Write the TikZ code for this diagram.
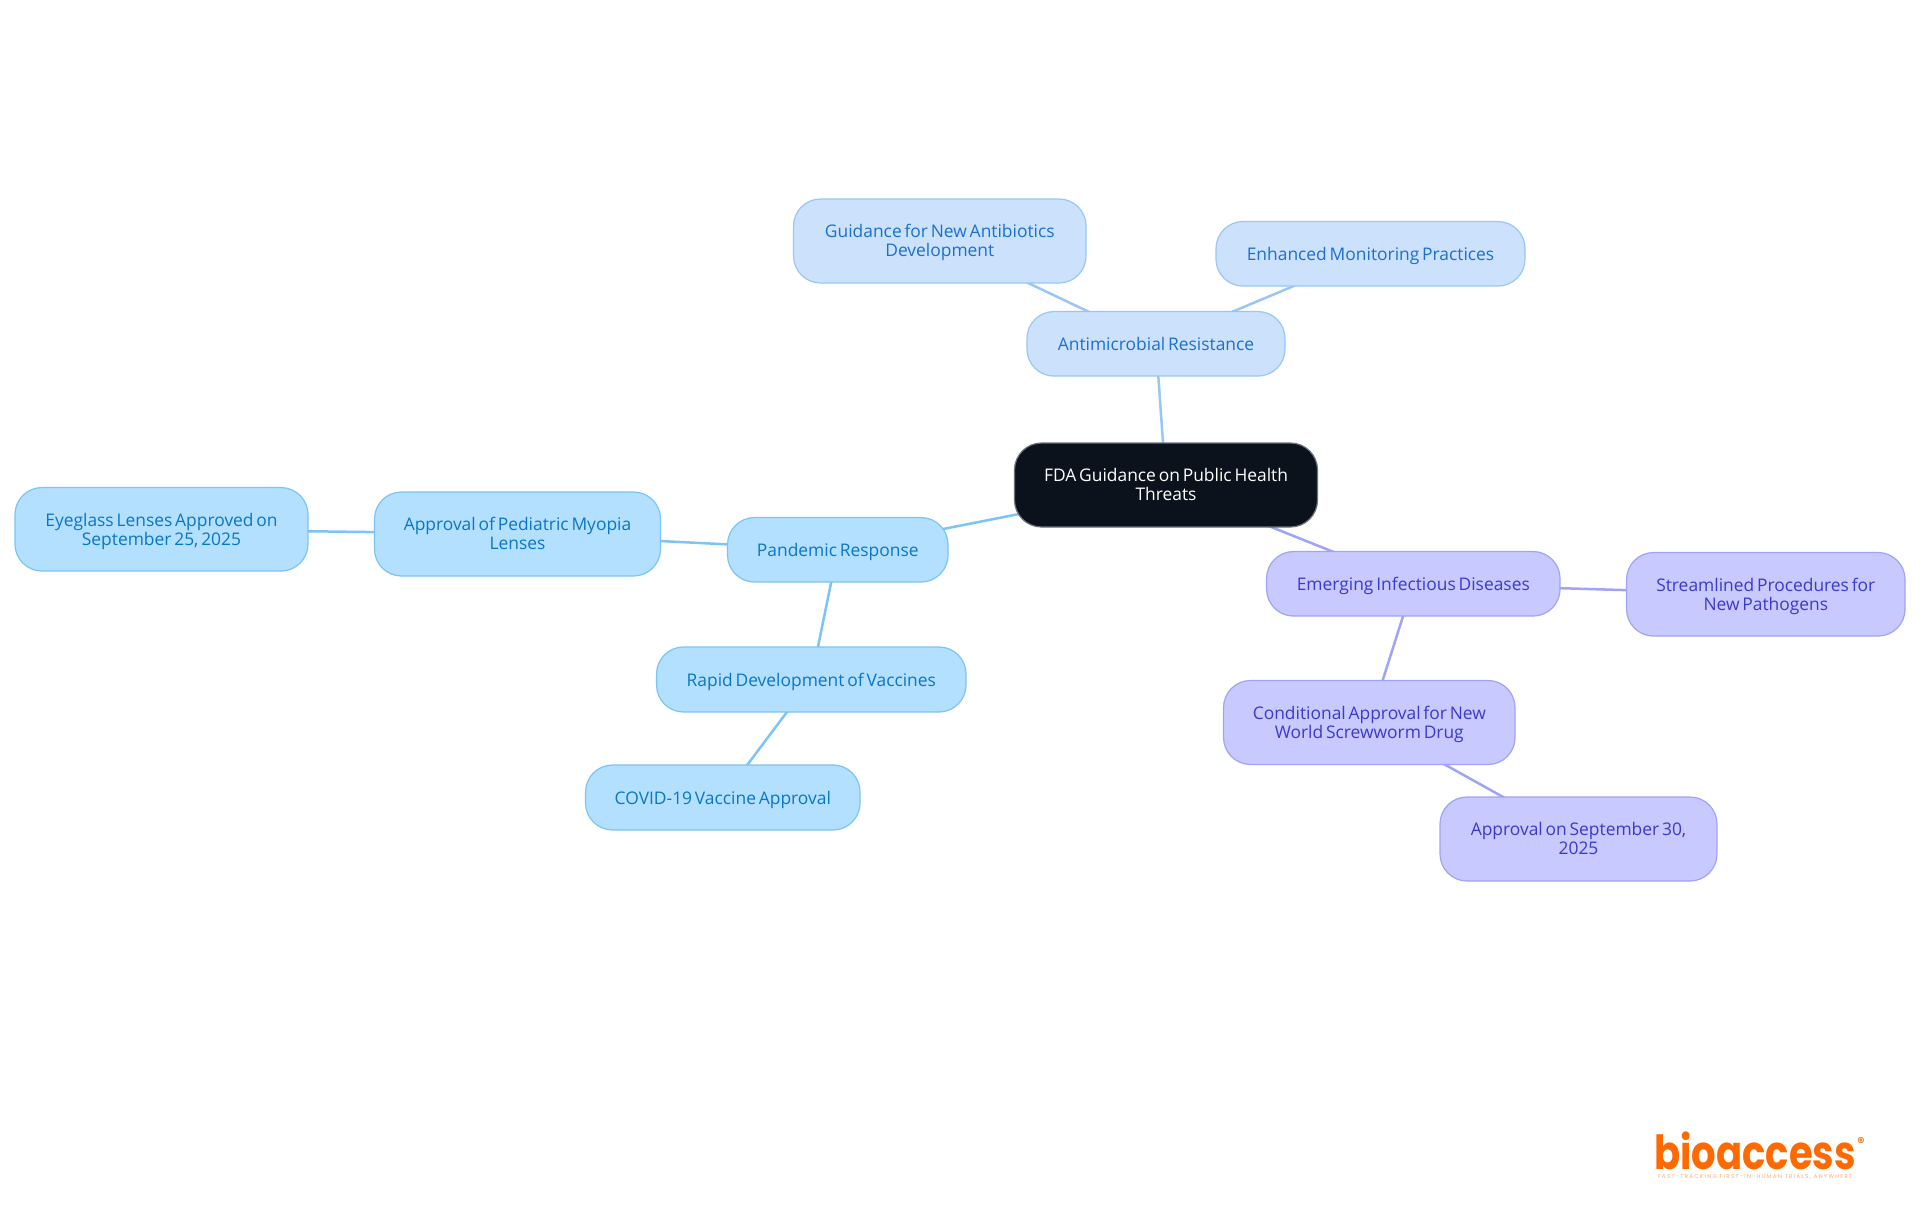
\documentclass[tikz,border=0pt]{standalone}
\usepackage{fontspec}
\setmainfont[WordSpace=0.62]{Open Sans}
\newfontfamily\logofont[FakeStretch=0.82]{Poppins}
\newfontfamily\tagfont[LetterSpace=23]{Poppins}
\usetikzlibrary{backgrounds}
\newcommand{\firstline}{\rule{0pt}{17.3pt}}
\definecolor{rootfill}{HTML}{0C121B}
\definecolor{rootline}{HTML}{6E7278}
\definecolor{bluefill}{HTML}{CCE2FC}
\definecolor{blueline}{HTML}{9AC6F5}
\definecolor{bluetext}{HTML}{1C6FD0}
\definecolor{skyfill}{HTML}{B3E0FF}
\definecolor{skyline}{HTML}{7CC4F6}
\definecolor{skytext}{HTML}{0A76C8}
\definecolor{indfill}{HTML}{C7C9FF}
\definecolor{indline}{HTML}{A0A4F6}
\definecolor{indtext}{HTML}{3A3ACF}
\definecolor{logoorange}{HTML}{FF6A00}
\tikzset{
  x=1pt,y=-1pt,
  box/.style={rectangle,rounded corners=27pt,line width=1.2pt,inner sep=0pt,align=center,
    font=\fontsize{17.4}{19.1}\selectfont,
    execute at begin node={\rule{0pt}{17.5pt}},
    execute at end node={\rule[-4.5pt]{0pt}{4.5pt}}},
  rootbox/.style={box,draw=rootline,fill=rootfill,text=white},
  bluebox/.style={box,draw=blueline,fill=bluefill,text=bluetext},
  skybox/.style={box,draw=skyline,fill=skyfill,text=skytext},
  indbox/.style={box,draw=indline,fill=indfill,text=indtext},
  link/.style={line width=2.5pt},
  bluelink/.style={link,draw=blueline},
  skylink/.style={link,draw=skyline},
  indlink/.style={link,draw=indline},
}
\begin{document}
\begin{tikzpicture}
\useasboundingbox (0,0) rectangle (1920,1215);
\node[rootbox,minimum width=303pt,minimum height=84pt] (root) at (1166,485) {\firstline FDA Guidance on Public Health\\Threats};
\node[bluebox,minimum width=258pt,minimum height=64.5pt] (amr) at (1156,343.8) {Antimicrobial Resistance};
\node[bluebox,minimum width=292.5pt,minimum height=84pt] (abx) at (939.8,241) {\firstline Guidance for New Antibiotics\\Development};
\node[bluebox,minimum width=309pt,minimum height=64.5pt] (mon) at (1370.5,253.8) {Enhanced Monitoring Practices};
\node[skybox,minimum width=220.5pt,minimum height=64.5pt] (pan) at (837.8,549.8) {Pandemic Response};
\node[skybox,minimum width=286pt,minimum height=84pt] (ped) at (517.5,534) {\firstline Approval of Pediatric Myopia\\Lenses};
\node[skybox,minimum width=293pt,minimum height=83.5pt] (eye) at (161.5,529.3) {\firstline Eyeglass Lenses Approved on\\September 25, 2025};
\node[skybox,minimum width=309.5pt,minimum height=65pt] (vac) at (811.3,679.5) {Rapid Development of Vaccines};
\node[skybox,minimum width=274.5pt,minimum height=65pt] (cov) at (722.8,797.5) {COVID-19 Vaccine Approval};
\node[indbox,minimum width=293.5pt,minimum height=64.5pt] (emg) at (1413.3,583.8) {Emerging Infectious Diseases};
\node[indbox,minimum width=278.5pt,minimum height=83.5pt] (str) at (1765.8,594.3) {\firstline Streamlined Procedures for\\New Pathogens};
\node[indbox,minimum width=291.5pt,minimum height=84pt] (con) at (1369.3,722.5) {\firstline Conditional Approval for New\\World Screwworm Drug};
\node[indbox,minimum width=277pt,minimum height=84pt] (sep) at (1578.5,839) {\firstline Approval on September 30,\\2025};
\begin{scope}[on background layer]
\fill[white] (0,0) rectangle (1920,1215);
\draw[bluelink] (root.center) -- (amr.center);
\draw[bluelink] (amr.center) -- (abx.center);
\draw[bluelink] (amr.center) -- (mon.center);
\draw[skylink] (root.center) -- (pan.center);
\draw[skylink] (pan.center) -- (ped.center);
\draw[skylink] (ped.center) -- (eye.center);
\draw[skylink] (pan.center) -- (vac.center);
\draw[skylink] (vac.center) -- (cov.center);
\draw[indlink] (root.center) -- (emg.center);
\draw[indlink] (emg.center) -- (str.center);
\draw[indlink] (emg.center) -- (con.center);
\draw[indlink] (con.center) -- (sep.center);
\end{scope}
\node[anchor=base west,inner sep=0pt,text=logoorange,font=\logofont\bfseries\fontsize{47}{47}\selectfont] (logo) at (1654,1169) {bioaccess};
\node[anchor=center,inner sep=0pt,text=logoorange,font=\tagfont\bfseries\fontsize{14}{14}\selectfont] (reg) at (1861,1142) {®};
\node[anchor=center,inner sep=0pt,text=logoorange!55,font=\tagfont\fontsize{5.6}{6}\selectfont] (tag) at (1755,1177) {FAST-TRACKING FIRST-IN-HUMAN TRIALS, ANYWHERE};
\end{tikzpicture}
\end{document}
